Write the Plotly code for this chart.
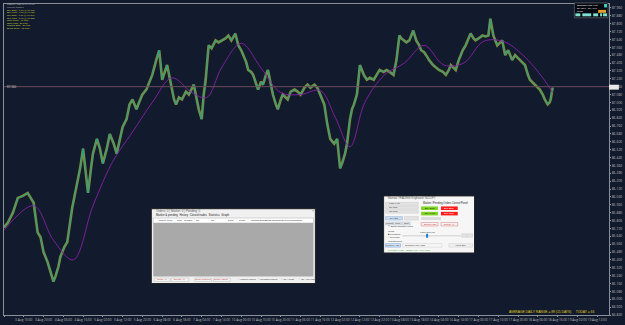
import plotly.graph_objects as go

# ---------------- data ----------------
bars = [0, 4, 9, 14, 19, 24, 27, 30, 34, 37, 40, 44, 47, 50, 52, 55, 57, 61, 64, 67, 69, 73, 77, 80, 83, 85,
        88, 90, 94, 97, 100, 104, 107, 111, 114, 117, 120, 124, 127, 130, 134, 137, 140, 144, 147, 150, 154,
        157, 160, 163, 165, 169, 172, 174, 177, 180, 184, 187, 190, 192, 195, 197, 200, 202, 204, 207, 210,
        214, 217, 220, 224, 227, 230, 234, 237, 240, 242, 245, 247, 250, 252, 255, 257, 260, 262, 265, 267,
        270, 272, 275, 277, 280, 282, 285, 287, 290, 294, 297, 300, 304, 307, 310, 314, 317, 320, 324, 327,
        330, 334, 337, 340, 342, 345, 347, 350, 352, 354, 357, 360, 362, 364, 367, 370, 374, 377, 380, 384,
        387, 390, 394, 397, 400, 402, 404, 407, 410, 414, 417, 420, 422, 425, 427, 430, 434, 437, 440, 444,
        447, 450, 452, 455, 457, 460, 464, 467, 470, 472, 475, 477, 480, 484, 487, 490, 492, 495, 497, 499,
        502, 504, 507, 510, 514, 517, 520, 522, 525, 527, 530, 532, 535, 537, 540, 542, 545, 547, 550, 552,
        553, 555]
close = [85.73, 85.78, 85.88, 86.03, 86.05, 86.08, 86.03, 85.98, 85.68, 85.63, 85.48, 85.38, 85.28, 85.18,
         85.23, 85.33, 85.43, 85.53, 85.58, 85.78, 85.93, 86.13, 86.33, 86.53, 86.28, 86.08, 86.33, 86.48,
         86.63, 86.53, 86.38, 86.53, 86.68, 86.58, 86.48, 86.63, 86.75, 86.83, 86.98, 87.03, 86.93, 87.01,
         87.08, 87.13, 87.21, 87.28, 87.43, 87.53, 87.23, 87.33, 87.38, 87.18, 87.03, 86.98, 87.05, 87.03,
         87.11, 87.08, 87.15, 87.18, 87.03, 86.93, 86.83, 87.08, 87.23, 87.58, 87.55, 87.63, 87.61, 87.63,
         87.65, 87.68, 87.63, 87.70, 87.58, 87.53, 87.48, 87.41, 87.33, 87.31, 87.28, 87.18, 87.13, 87.21,
         87.18, 87.28, 87.33, 87.18, 87.08, 86.98, 86.93, 87.03, 87.08, 87.05, 87.03, 87.11, 87.13, 87.11,
         87.08, 87.15, 87.18, 87.15, 87.18, 87.15, 87.08, 86.98, 86.78, 86.63, 86.58, 86.63, 86.33, 86.38,
         86.48, 86.58, 86.83, 86.93, 86.98, 87.08, 87.38, 87.33, 87.28, 87.23, 87.25, 87.23, 87.28, 87.33,
         87.31, 87.33, 87.31, 87.28, 87.43, 87.68, 87.65, 87.63, 87.61, 87.63, 87.73, 87.63, 87.58, 87.53,
         87.51, 87.48, 87.43, 87.38, 87.35, 87.33, 87.31, 87.28, 87.33, 87.38, 87.35, 87.33, 87.43, 87.53,
         87.58, 87.65, 87.70, 87.65, 87.63, 87.65, 87.68, 87.67, 87.68, 87.85, 87.68, 87.63, 87.58, 87.61,
         87.63, 87.48, 87.53, 87.43, 87.48, 87.45, 87.43, 87.41, 87.38, 87.28, 87.23, 87.20, 87.18, 87.15,
         87.13, 87.08, 87.03, 86.98, 87.00, 87.03, 87.15]

ma_bars = [0, 30, 50, 70, 90, 110, 130, 150, 170, 190, 205, 220, 240, 260, 280, 300, 320, 335, 350, 365,
           385, 405, 425, 445, 465, 485, 505, 525, 545, 555]
ma_vals = [85.70, 85.95, 85.60, 85.40, 85.95, 86.40, 86.70, 87.00, 87.25, 87.10, 87.05, 87.35, 87.60, 87.35,
           87.10, 87.08, 87.12, 86.85, 86.55, 87.00, 87.28, 87.40, 87.58, 87.38, 87.40, 87.62, 87.62, 87.48,
           87.25, 87.10]

bid_price = 87.16

tick_bars = list(range(0, 612, 20))
tick_labels = ["3 Aug 2020", "3 Aug 10:00", "3 Aug 20:00", "4 Aug 06:00", "4 Aug 16:00", "5 Aug 02:00",
               "5 Aug 12:00", "5 Aug 22:00", "6 Aug 08:00", "6 Aug 18:00", "7 Aug 04:00", "7 Aug 14:00",
               "10 Aug 00:00", "10 Aug 10:00", "10 Aug 20:00", "11 Aug 06:00", "11 Aug 16:00", "12 Aug 02:00",
               "12 Aug 12:00", "12 Aug 22:00", "13 Aug 08:00", "13 Aug 18:00", "14 Aug 04:00", "14 Aug 14:00",
               "17 Aug 00:00", "17 Aug 10:00", "17 Aug 20:00", "18 Aug 06:00", "18 Aug 16:00", "19 Aug 02:00",
               "19 Aug 12:00"]

info_head = ["NZDJPY,M30 69.94 69.96", "Manual Trading"]
info_lines = ["Buy Stop - 0.10 @ 70.180",
              "Buy Limit - 0.10 @ 69.620",
              "Sell Stop - 0.10 @ 69.540",
              "Sell Limit - 0.10 @ 70.320",
              "Take Profit - 40 pips",
              "Stop Loss - 30 pips",
              "Trailing Stop - 20 pips",
              "Break Even - 15 pips"]

# ---------------- figure ----------------
W, H = 625, 325
ML, MR, MT, MB = 3, 10, 3, 6
PW, PH = W - ML - MR, H - MT - MB
BG = "#121b2d"


def fx(p):
    return (p - ML) / PW


def fy(p):
    return (H - MB - p) / PH


fig = go.Figure()
fig.add_trace(go.Scatter(x=bars, y=close, mode="lines",
                         line=dict(color="#a3a834", width=2.6), opacity=0.8, hoverinfo="skip"))
fig.add_trace(go.Scatter(x=bars, y=close, mode="lines",
                         line=dict(color="#1aa5a0", width=0.9), hoverinfo="skip"))
fig.add_trace(go.Scatter(x=ma_bars, y=ma_vals, mode="lines", line_shape="spline",
                         line=dict(color="#8a1fa8", width=0.9), hoverinfo="skip"))

fig.add_hline(y=bid_price, line=dict(color="#6b4a5a", width=1))

shapes = []
ann = []


def rect(x0, y0, x1, y1, fill, line="rgba(0,0,0,0)", lw=0.6):
    shapes.append(dict(type="rect", xref="paper", yref="paper", x0=fx(x0), x1=fx(x1),
                       y0=fy(y1), y1=fy(y0), fillcolor=fill, line=dict(color=line, width=lw), layer="above"))


def text(x, y, s, size=3.5, color="#333", anchor="left"):
    ann.append(dict(xref="paper", yref="paper", x=fx(x), y=fy(y), text=s, showarrow=False,
                    xanchor=anchor, yanchor="middle", font=dict(size=size, color=color, family="Liberation Sans")))


# top-left info text
text(4, 4, info_head[0], 2.4, "#b0b0b0")
text(4, 6.6, info_head[1], 2.4, "#b0b0b0")
for i, s in enumerate(info_lines):
    text(4, 9.4 + i * 2.65, s, 2.4, "#d6d62a")

# left price label at bid line
rect(3, 85.5, 14, 88.5, BG)
text(4, 87, "87.160", 3.0, "#c8c8c8")
# right bid label
rect(615, 85, 625, 90, "#e8e8e8")

# top-right box
rect(580, 2, 614, 17, "#05080e", "#8a8a8a", 0.5)
text(581, 4.5, "Standard Lots: 1.00", 2.4, "#ffffff")
text(581, 7.5, "SL: 30.0   TP: 40.0", 2.4, "#ffffff")
text(581, 10.2, "Profit", 2.4, "#ffffff")
rect(610, 3, 613, 6.5, "#40d0c0")
rect(604, 9, 612, 12, "#e0a030")
for x0, x1 in [(581, 586), (588, 597), (599, 604), (606, 608), (609, 613)]:
    rect(x0, 12.5, x1, 15.5, "#7fe0d0")

# dialog 1
rect(152, 211, 318, 287, "#f0f0f0", "#202020", 1)
text(155, 213.3, "Orders: 0 | Market: 0 | Pending: 0", 3, "#555")
text(313, 213.3, "×", 3.5, "#555")
text(155, 217.8, "Market & pending  History  Closed trades  Statistics  Graph", 2.8, "#222")
rect(154, 220.5, 316, 225.5, "#ffffff", "#9a9a9a", 0.4)
cols = ["Ticket", "Type", "Size", "Symbol", "SL", "TP", "Price", "Profit", "Trailing Stop", "Break Even", "Close Price", "Comment"]
cx = [158, 166, 176, 183, 195, 210, 228, 239, 251, 265, 278, 291]
for c, x in zip(cols, cx):
    text(x, 223, c, 2.5, "#222")
rect(154, 225.5, 316, 280, "#a9a9a9")
for x0, x1, s in [(155, 171, "Close All"), (172, 190, "Delete All"), (196, 213, "Close winners"), (215, 232, "Close losers")]:
    rect(x0, 281.5, x1, 285, "#f4f4f4", "#b0b0b0", 0.4)
    text((x0 + x1) / 2, 283.3, s, 2.5, "#d03030", "center")
for x, s in [(238, "Market orders"), (258, "Pending orders"), (281, "TP / Long"), (299, "SL / TP Long")]:
    text(x, 283.3, "○ " + s, 2.5, "#333")

# dialog 2
rect(387, 198, 479, 256, "#f6f6f6", "#202020", 1)
text(389, 200.5, "Manual TRADING Keyboard: NZDJPY", 2.8, "#555")
text(425, 205.5, "Market / Pending Orders Control Panel", 2.6, "#222")
for yy, lab in [(206, "Lots: 0.10"), (210, "SL pips"), (214, "TP pips")]:
    rect(389, yy - 1.5, 422, yy + 1.5, "#e4e4e4", "#b0b0b0", 0.3)
    text(390, yy, lab, 2.5, "#333")
for yy, lg, lr in [(210.5, "Buy Stop", "Sell Stop"), (216, "Buy Limit", "Sell Limit")]:
    rect(425, yy - 1.8, 442, yy + 1.8, "#7ed321")
    text(433.5, yy, lg, 2.4, "#222", "center")
    rect(445, yy - 1.8, 462, yy + 1.8, "#ff1a1a")
    text(453.5, yy, lr, 2.4, "#fff", "center")
rect(425, 219.5, 445, 222.5, "#dcdcdc")
rect(425, 225, 442, 228.5, "#f4f4f4", "#e05050", 0.4)
text(433.5, 226.8, "Delete Last", 2.4, "#d03030", "center")
rect(445, 225, 462, 228.5, "#f4f4f4", "#e05050", 0.4)
text(453.5, 226.8, "Delete All", 2.4, "#d03030", "center")
rect(389, 219, 406, 222.5, "#c8dcf0", "#7a9cc8", 0.4)
text(397.5, 220.8, "PLACE", 2.4, "#333", "center")
rect(408, 219, 422, 222.5, "#e4e4e4", "#b0b0b0", 0.3)
for x0, x1, s in [(389, 396, "Market"), (397, 405, "Limit"), (406, 414, "Stop")]:
    rect(x0, 224.5, x1, 227.5, "#e8e8e8", "#7a9cc8", 0.3)
    text((x0 + x1) / 2, 226, s, 2.3, "#333", "center")
text(389, 229.5, "☐ Show Indicator Lines", 2.4, "#333")
text(389, 234, "Trend", 2.4, "#333")
text(389, 237, "■ Following", 2.4, "#333")
text(389, 240, "○ Reversal", 2.4, "#333")
rect(406, 238.3, 465, 238.9, "#c0c0c0")
rect(430, 236.5, 432, 240.5, "#1a7ad0")
text(431, 234.5, "0.20/0.50/0.80", 2.3, "#333", "center")
rect(466, 236.5, 471, 240, "#e4e4e4", "#b0b0b0", 0.3)
rect(472, 236.5, 477, 240, "#e4e4e4", "#b0b0b0", 0.3)
text(389, 244.5, "Management", 2.4, "#333")
rect(389, 246.5, 404, 250, "#dbe9f7", "#3a7ad0", 0.4)
text(396.5, 248.2, "Confirm Acts", 2.3, "#333", "center")
rect(406, 246.5, 446, 250, "#f8f8f8", "#b0b0b0", 0.3)
text(407, 248.2, "Standard lots / NZD", 2.3, "#333")
rect(453, 246.5, 477, 250, "#f0f0f0", "#b0b0b0", 0.3)
text(465, 248.2, "About Box", 2.3, "#333", "center")
text(389, 253, "Leverage: 1:100   Margin: 0.00   Free: 1000", 2.2, "#2a9a2a")

# bottom-right ADR text
text(602, 316, "AVERAGE DAILY RANGE = 89 (15 DAYS)     TODAY = 66", 3.3, "#e0d020", "right")

fig.update_layout(
    width=W, height=H, margin=dict(l=ML, r=MR, t=MT, b=MB),
    paper_bgcolor=BG, plot_bgcolor=BG, showlegend=False,
    shapes=shapes, annotations=ann,
    xaxis=dict(range=[0, 612], tickvals=tick_bars, ticktext=tick_labels, showgrid=False, zeroline=False,
               showline=True, linecolor="#8a8f98", mirror=True, ticks="outside", ticklen=1, tickcolor="#8a8f98",
               tickfont=dict(size=3.2, color="#b8b8b8"), tickangle=0),
    yaxis=dict(range=[84.84, 88.00], side="right", dtick=0.08, tick0=84.84, tickformat=".3f", showgrid=False,
               zeroline=False, showline=True, linecolor="#8a8f98", mirror=True, ticks="outside", ticklen=1,
               tickcolor="#8a8f98", tickfont=dict(size=3.4, color="#b8b8b8")),
)

fig.write_html("out.html")
